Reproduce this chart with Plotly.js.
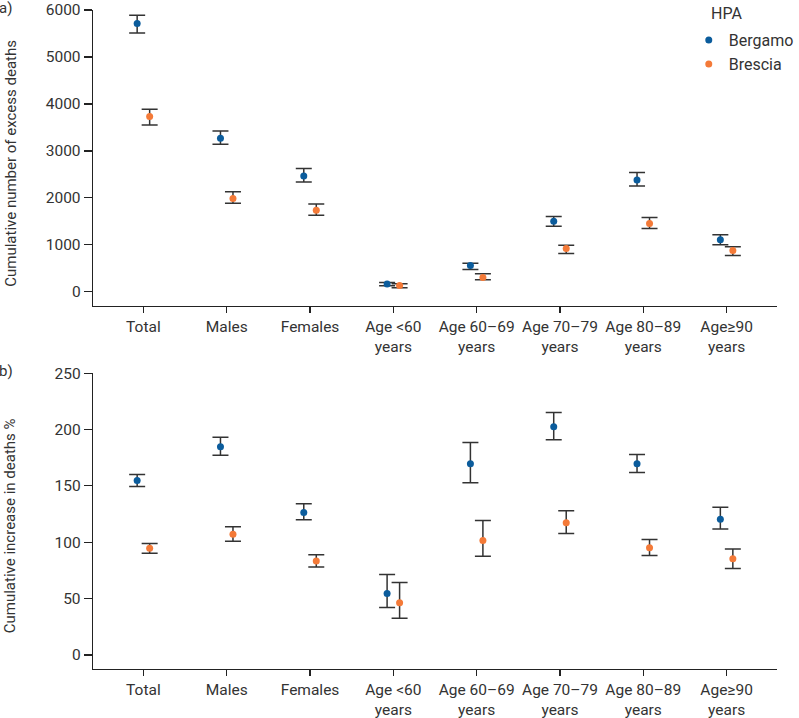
<!DOCTYPE html>
<html>
<head>
<meta charset="utf-8">
<script src="https://cdn.plot.ly/plotly-3.0.1.min.js"></script>
<style>
  html, body { margin: 0; padding: 0; background: #fff; }
  #myDiv { width: 799px; height: 718px; }
</style>
</head>
<body>
<div id="myDiv"></div>
<script>
var categories = ['Total', 'Males', 'Females', 'Age &lt;60<br>years', 'Age 60–69<br>years',
                  'Age 70–79<br>years', 'Age 80–89<br>years', 'Age≥90<br>years'];

// panel a: cumulative number of excess deaths
var bergamoDeaths    = [5710, 3270, 2465, 164, 560, 1504, 2383, 1106];
var bergamoDeathsLo  = [5510, 3142, 2340, 128, 475, 1397, 2255, 1000];
var bergamoDeathsHi  = [5887, 3426, 2624, 198, 610, 1603, 2539, 1213];
var bresciaDeaths    = [3730, 1986, 1738, 134, 305, 922, 1454, 879];
var bresciaDeathsLo  = [3553, 1887, 1631, 85, 255, 816, 1348, 773];
var bresciaDeathsHi  = [3887, 2128, 1872, 170, 383, 993, 1582, 957];

// panel b: cumulative increase in deaths %
var bergamoPct    = [154.7, 184.6, 126.3, 54.4, 169.5, 202.4, 169.5, 120.4];
var bergamoPctLo  = [149.4, 177.2, 119.8, 42.0, 152.7, 190.8, 161.8, 111.8];
var bergamoPctHi  = [160.0, 193.2, 134.0, 71.3, 188.5, 215.1, 177.8, 131.0];
var bresciaPct    = [94.7, 107.0, 83.4, 46.2, 101.5, 117.2, 95.0, 85.2];
var bresciaPctLo  = [90.2, 100.9, 78.1, 32.5, 87.6, 107.7, 88.2, 76.6];
var bresciaPctHi  = [98.8, 113.6, 88.8, 64.2, 119.2, 127.8, 102.4, 94.0];

var blue = '#0b5c9c';
var orange = '#f47a38';
var barColor = '#333333';

var idx = categories.map(function(c, i){ return i; });
var xBerg = idx.map(function(i){ return i - 0.075; });
var xBres = idx.map(function(i){ return i + 0.075; });

function diff(a, b){ return a.map(function(v, i){ return Math.abs(v - b[i]); }); }

function makeTrace(x, y, lo, hi, color, name, xa, ya, show){
    return {
        x: x, y: y,
        xaxis: xa, yaxis: ya,
        type: 'scatter',
        mode: 'markers',
        name: name,
        showlegend: show,
        marker: {color: color, size: 7},
        error_y: {
            type: 'data',
            symmetric: false,
            array: diff(hi, y),
            arrayminus: diff(y, lo),
            color: barColor,
            thickness: 1.5,
            width: 8
        },
        hoverinfo: 'x+y'
    };
}

var data = [
    makeTrace(xBerg, bergamoDeaths, bergamoDeathsLo, bergamoDeathsHi, blue, 'Bergamo', 'x', 'y', true),
    makeTrace(xBres, bresciaDeaths, bresciaDeathsLo, bresciaDeathsHi, orange, 'Brescia', 'x', 'y', true),
    makeTrace(xBerg, bergamoPct, bergamoPctLo, bergamoPctHi, blue, 'Bergamo', 'x2', 'y2', false),
    makeTrace(xBres, bresciaPct, bresciaPctLo, bresciaPctHi, orange, 'Brescia', 'x2', 'y2', false)
];

var fontFam = 'Roboto, "Open Sans", sans-serif';
var txtColor = '#333333';

function xAxis(anchor){
    return {
        anchor: anchor,
        domain: [0, 1],
        range: [-0.605, 7.605],
        tickvals: idx,
        ticktext: categories,
        tickangle: 0,
        showline: true,
        linecolor: '#222',
        linewidth: 1.3,
        ticks: 'outside',
        ticklen: 6,
        tickwidth: 1.2,
        tickcolor: '#222',
        showgrid: false,
        zeroline: false,
        tickfont: {family: fontFam, size: 15.5, color: txtColor},
        fixedrange: true
    };
}

function yAxis(anchor, domain, range, dtick){
    return {
        anchor: anchor,
        domain: domain,
        range: range,
        dtick: dtick,
        tick0: 0,
        showline: true,
        linecolor: '#222',
        linewidth: 1.3,
        ticks: 'outside',
        ticklen: 8,
        tickwidth: 1.2,
        tickcolor: '#222',
        showgrid: false,
        zeroline: false,
        tickfont: {family: fontFam, size: 15.5, color: txtColor},
        fixedrange: true
    };
}

var layout = {
    width: 799,
    height: 718,
    margin: {l: 93, r: 0, t: 10, b: 49},
    paper_bgcolor: '#fff',
    plot_bgcolor: '#fff',
    font: {family: fontFam, size: 15.5, color: txtColor},
    showlegend: true,
    legend: {
        x: 0.871, xanchor: 'left',
        y: 0.98, yanchor: 'top',
        font: {family: fontFam, size: 16, color: txtColor},
        bgcolor: 'rgba(0,0,0,0)',
        itemwidth: 30,
        tracegroupgap: 0
    },
    xaxis: xAxis('y'),
    yaxis: yAxis('x', [0.551, 1], [-300, 6000], 1000),
    xaxis2: xAxis('y2'),
    yaxis2: yAxis('x2', [0, 0.449], [-12.5, 250], 50),
    annotations: [
        {text: 'HPA', xref: 'paper', yref: 'paper', x: 0.9, y: 0.995, xanchor: 'left', yanchor: 'middle',
         showarrow: false, font: {family: fontFam, size: 16, color: txtColor}},
        {text: 'a)', xref: 'paper', yref: 'paper', x: -0.14, y: 1.003, xanchor: 'left', yanchor: 'middle',
         showarrow: false, font: {family: fontFam, size: 15, color: txtColor}},
        {text: 'b)', xref: 'paper', yref: 'paper', x: -0.14, y: 0.452, xanchor: 'left', yanchor: 'middle',
         showarrow: false, font: {family: fontFam, size: 15, color: txtColor}},
        {text: 'Cumulative number of excess deaths', xref: 'paper', yref: 'paper',
         x: -0.121, y: 0.767, xanchor: 'center', yanchor: 'middle', textangle: -90,
         showarrow: false, font: {family: fontFam, size: 15, color: txtColor}},
        {text: 'Cumulative increase in deaths %', xref: 'paper', yref: 'paper',
         x: -0.121, y: 0.217, xanchor: 'center', yanchor: 'middle', textangle: -90,
         showarrow: false, font: {family: fontFam, size: 15, color: txtColor}}
    ]
};

Plotly.newPlot('myDiv', data, layout, {displayModeBar: false, staticPlot: true});
</script>
</body>
</html>
